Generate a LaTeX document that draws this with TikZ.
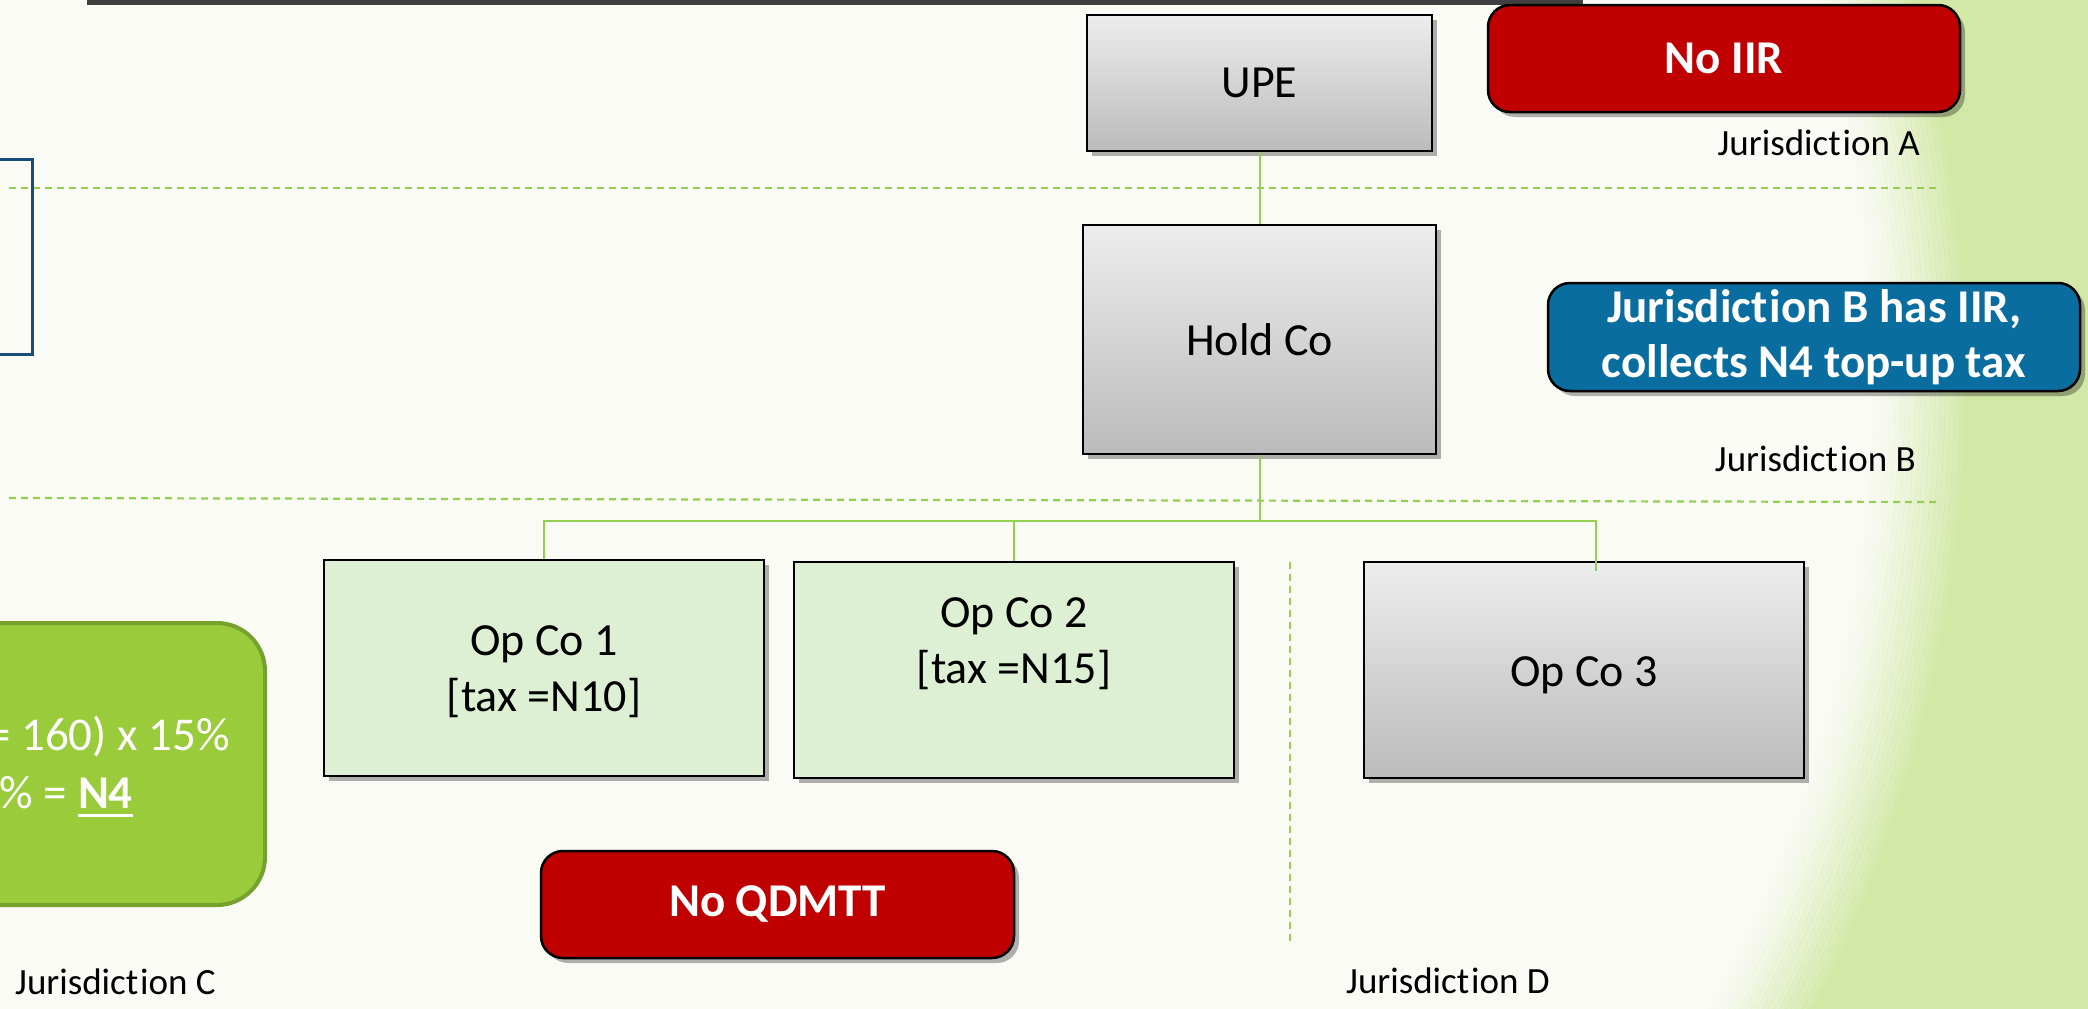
\documentclass[tikz,border=0pt]{standalone}
\usepackage{fontspec}
\setmainfont{Carlito}[Ligatures={NoCommon}]
\usetikzlibrary{shadows}
\definecolor{bgc}{HTML}{FAFBF5}
\definecolor{sidegreen}{HTML}{D2E8A6}
\definecolor{lgreen}{HTML}{92D050}
\definecolor{boxred}{HTML}{C00000}
\definecolor{boxblue}{HTML}{0A6D9F}
\definecolor{opfill}{HTML}{DEF0D4}
\definecolor{calcfill}{HTML}{9ACB3A}
\definecolor{calcedge}{HTML}{76A12F}
\definecolor{navy}{HTML}{174C7B}
\definecolor{barc}{HTML}{404040}
\definecolor{gtop}{HTML}{EDEDED}
\definecolor{gbot}{HTML}{BBBBBB}
\newcommand{\thickul}[1]{\setbox0\hbox{#1}\rlap{\rule[-9pt]{\wd0}{3.5pt}}\box0}
\newcommand{\Jword}{Jurisdict\kern0.05em ion}
\begin{document}
\begin{tikzpicture}[x=1pt,y=-1pt,
  shadowed/.style={drop shadow={shadow xshift=5pt, shadow yshift=-5pt, fill=black, opacity=0.3}},
  graybox/.style={shadowed, draw=black, line width=2.5pt, top color=gtop, bottom color=gbot,
    rectangle, inner sep=0pt, align=center, font=\fontsize{46}{56}\selectfont},
  opbox/.style={shadowed, draw=black, line width=2.5pt, fill=opfill,
    rectangle, inner sep=0pt},
  boxtext/.style={inner sep=0pt, align=center, font=\fontsize{46}{56}\selectfont},
  redflag/.style={shadowed, draw=black, line width=2.5pt, fill=boxred, rounded corners=22pt,
    text=white, inner sep=0pt, align=center, font=\fontsize{47}{55}\bfseries\selectfont},
  blueflag/.style={redflag, fill=boxblue},
  calcbox/.style={draw=calcedge, line width=4pt, fill=calcfill, rounded corners=48pt, inner sep=0pt},
  calctext/.style={text=white, inner sep=0pt, font=\fontsize{47}{56}\selectfont},
  sidebox/.style={draw=navy, line width=3pt, inner sep=0pt},
  jlabel/.style={inner sep=0pt, font=\fontsize{37}{44}\selectfont},
  link/.style={draw=lgreen, line width=2pt},
  divider/.style={draw=lgreen, line width=2.2pt, dash pattern=on 7pt off 5pt}]

\useasboundingbox (0,0) rectangle (2088,1009);
\clip (0,0) rectangle (2088,1009);

% background
\fill[bgc] (0,0) rectangle (2088,1009);
\fill[sidegreen, even odd rule] (-10,-10) rectangle (2100,1020) (589,380) circle[radius=1381pt];
\foreach \i in {0,...,19}{
  \pgfmathsetmacro{\ra}{1281+5*\i}
  \pgfmathsetmacro{\rb}{\ra+5.5}
  \pgfmathsetmacro{\op}{((\i+0.5)/20)^1.3}
  \fill[sidegreen, opacity=\op, even odd rule] (589,380) circle[radius=\ra pt] (589,380) circle[radius=\rb pt];
}

% top bar
\fill[barc] (87,0) rectangle (1583,4.5);

% dividers
\draw[divider] (9,188) -- (1937,188);
\draw[divider] (9,498) -- (1937,502);
\draw[divider] (1290,562) -- (1290,945);

% left side boxes (cut off)
\node[sidebox, minimum width=82pt, minimum height=195pt] (side) at (-9,256.5) {};
\node[calcbox, minimum width=365pt, minimum height=282pt] (calc) at (82.5,764) {};
\node[calctext, anchor=base east] (calc1) at (230,750) {= 160) x 15\%};
\node[calctext, anchor=base east] (calc2) at (133,808) {\% = \thickul{\textbf{N4}}};

% entities
\node[graybox, minimum width=345pt, minimum height=136pt] (upe) at (1259.5,83) {UPE};
\node[graybox, minimum width=353pt, minimum height=229pt] (hold) at (1259.5,339.5) {Hold Co};
\node[opbox, minimum width=440pt, minimum height=216pt] (op1) at (544,668) {};
\node[opbox, minimum width=440pt, minimum height=216pt] (op2) at (1014,670) {};
\node[graybox, minimum width=440pt, minimum height=216pt] (op3) at (1584,670) {};
\node[boxtext] (op1t) at (544,672) {Op Co 1\\{}[tax =N10]};
\node[boxtext] (op2t) at (1014,644) {Op Co 2\\{}[tax =N15]};
\node[boxtext] (op3t) at (1584,675) {Op Co 3};

% flags
\node[redflag, minimum width=472pt, minimum height=107pt] (noiir) at (1724,58.5) {No IIR};
\node[blueflag, minimum width=532pt, minimum height=108pt] (hasiir) at (1814,337) {\Jword{} B has IIR,\\collects N4 top-up tax};
\node[redflag, minimum width=473pt, minimum height=107pt] (noqdmtt) at (777.5,904.5) {No QDMTT};

% connectors
\coordinate (bus) at (1259.5,521);
\coordinate (j3) at (1596,521);
\coordinate (t3) at (1596,571);
\draw[link] (upe.south) -- (hold.north);
\draw[link] (hold.south) -- (bus);
\draw[link] (op1.north) -- (op1.north |- bus) -- (j3) -- (t3);
\draw[link] (op2.north) -- (op2.north |- bus);

% jurisdiction labels
\node[jlabel, anchor=base east] (ja) at (1920,155) {\Jword{} A};
\node[jlabel, anchor=base east] (jb) at (1916,471) {\Jword{} B};
\node[jlabel, anchor=base west] (jc) at (15,994) {\Jword{} C};
\node[jlabel, anchor=base west] (jd) at (1346,993) {\Jword{} D};
\end{tikzpicture}
\end{document}
